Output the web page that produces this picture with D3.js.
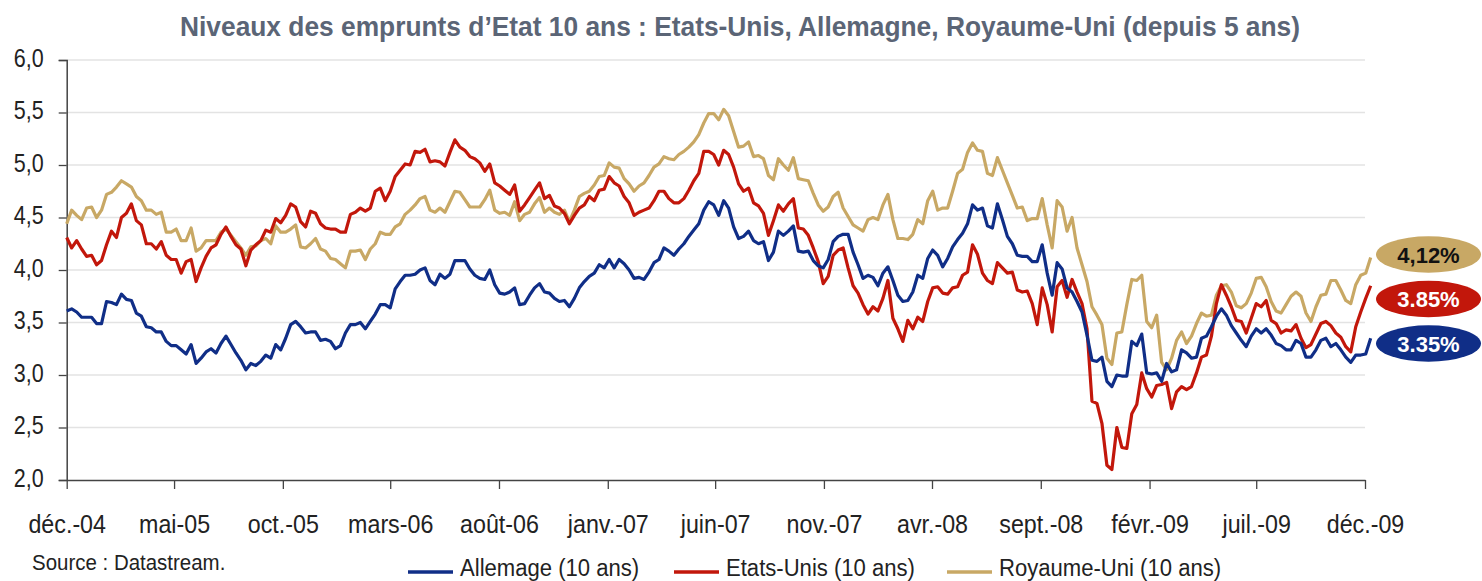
<!DOCTYPE html>
<html><head><meta charset="utf-8">
<script src="https://cdn.jsdelivr.net/npm/d3@7"></script>
<style>
html,body{margin:0;padding:0;background:#fff;}
svg{display:block;}
text{font-family:"Liberation Sans Narrow","Arial Narrow","Liberation Sans",Arial,sans-serif;}
</style></head>
<body><svg id="c" width="1482" height="581"></svg>
<script>
const title = "Niveaux des emprunts d\u2019Etat 10 ans : Etats-Unis, Allemagne, Royaume-Uni (depuis 5 ans)";
const startDate = new Date(2004, 11, 1); // first weekly observation
const seriesNames = ["Allemage (10 ans)", "Etats-Unis (10 ans)", "Royaume-Uni (10 ans)"];
const endLabels = ["3.35%", "3.85%", "4,12%"];
const xTickLabels = ["déc.-04","mai-05","oct.-05","mars-06","août-06","janv.-07","juin-07","nov.-07","avr.-08","sept.-08","févr.-09","juil.-09","déc.-09"];
const yTickValues = [2.0,2.5,3.0,3.5,4.0,4.5,5.0,5.5,6.0];
const yTickLabels = ["2,0","2,5","3,0","3,5","4,0","4,5","5,0","5,5","6,0"];

const allemagne = [
3.61,3.63,3.60,3.55,3.55,3.55,3.49,3.49,3.70,3.69,3.67,3.77,3.72,3.71,3.59,3.56,3.46,3.45,3.41,3.41,3.32,3.28,3.28,3.24,3.20,3.29,3.11,3.16,3.22,3.25,3.21,3.30,3.37,3.29,3.21,3.14,3.05,3.11,3.09,3.13,3.19,3.16,3.29,3.24,
3.35,3.48,3.51,3.46,3.40,3.41,3.41,3.33,3.34,3.32,3.25,3.28,3.40,3.48,3.48,3.50,3.44,3.51,3.58,3.67,3.67,3.64,3.82,3.89,3.95,3.95,3.96,4.00,4.02,3.90,3.86,3.96,3.92,3.96,4.09,4.09,4.09,4.01,3.95,3.92,3.91,4.00,3.86,3.78,
3.77,3.79,3.83,3.67,3.68,3.76,3.83,3.87,3.79,3.78,3.73,3.70,3.71,3.65,3.73,3.83,3.89,3.94,3.97,4.05,4.02,4.10,4.02,4.10,4.06,4.00,3.92,3.93,3.91,3.98,4.07,4.10,4.21,4.18,4.14,4.20,4.25,4.32,4.38,4.44,4.57,4.65,4.62,4.52,
4.66,4.59,4.41,4.30,4.32,4.37,4.28,4.25,4.27,4.09,4.17,4.37,4.33,4.37,4.42,4.18,4.17,4.18,4.09,4.04,4.02,4.10,4.27,4.32,4.34,4.34,4.17,4.05,3.92,3.95,3.93,3.85,3.97,4.03,3.90,3.76,3.70,3.71,3.79,3.95,3.92,4.11,4.19,4.14,4.03,
4.11,4.22,4.29,4.35,4.44,4.62,4.57,4.59,4.42,4.40,4.63,4.48,4.32,4.25,4.14,4.13,4.13,4.08,4.08,4.24,3.97,3.76,4.07,4.01,3.83,3.79,3.70,3.60,3.38,3.14,3.13,3.17,2.94,2.89,3.00,2.99,2.99,3.32,3.28,3.39,3.02,3.01,3.02,2.94,
3.11,3.03,3.05,3.24,3.21,3.16,3.17,3.35,3.37,3.46,3.56,3.63,3.57,3.47,3.40,3.33,3.27,3.37,3.44,3.40,3.44,3.38,3.30,3.28,3.24,3.24,3.33,3.30,3.17,3.17,3.24,3.33,3.35,3.27,3.30,3.24,3.17,3.12,3.19,3.19,3.20,3.35];

const etatsUnis = [
4.31,4.21,4.28,4.20,4.13,4.14,4.05,4.09,4.24,4.37,4.31,4.50,4.54,4.63,4.47,4.43,4.25,4.25,4.20,4.27,4.14,4.10,4.10,3.97,4.08,4.10,3.89,4.02,4.13,4.21,4.24,4.34,4.41,4.32,4.24,4.20,4.04,4.19,4.24,4.28,4.38,4.36,4.49,4.45,
4.52,4.63,4.60,4.46,4.41,4.56,4.54,4.44,4.40,4.39,4.39,4.36,4.36,4.53,4.55,4.59,4.56,4.59,4.75,4.78,4.66,4.75,4.89,4.95,5.01,5.00,5.13,5.12,5.15,5.03,5.04,5.03,4.99,5.12,5.24,5.17,5.14,5.08,5.06,5.02,4.94,5.01,4.83,4.80,
4.76,4.72,4.81,4.56,4.62,4.69,4.76,4.83,4.68,4.71,4.61,4.59,4.54,4.44,4.52,4.59,4.62,4.70,4.66,4.76,4.77,4.89,4.83,4.80,4.70,4.64,4.52,4.55,4.57,4.59,4.66,4.75,4.75,4.68,4.64,4.64,4.68,4.76,4.85,4.92,5.13,5.13,5.10,5.00,
5.14,5.10,4.98,4.82,4.75,4.78,4.64,4.61,4.54,4.33,4.47,4.62,4.56,4.63,4.68,4.40,4.39,4.33,4.21,4.08,3.87,3.94,4.14,4.19,4.21,4.02,3.85,3.78,3.67,3.58,3.65,3.61,3.73,3.90,3.54,3.44,3.32,3.52,3.44,3.55,3.51,3.70,3.83,3.84,3.78,
3.77,3.83,3.84,3.95,3.98,4.24,4.15,3.97,3.90,3.87,4.07,4.02,3.97,3.98,3.81,3.79,3.80,3.68,3.48,3.83,3.67,3.41,3.84,3.90,3.74,3.91,3.79,3.68,3.44,2.75,2.73,2.54,2.14,2.10,2.50,2.31,2.30,2.63,2.72,3.02,2.87,2.79,2.90,2.91,
2.93,2.68,2.84,2.89,2.86,2.89,3.02,3.17,3.19,3.37,3.68,3.86,3.76,3.65,3.52,3.51,3.40,3.54,3.68,3.65,3.71,3.52,3.49,3.40,3.43,3.42,3.48,3.35,3.26,3.29,3.39,3.49,3.51,3.47,3.40,3.36,3.27,3.22,3.46,3.60,3.73,3.85];

const royaumeUni = [
4.44,4.57,4.52,4.48,4.59,4.60,4.50,4.57,4.72,4.74,4.79,4.85,4.82,4.79,4.70,4.66,4.57,4.57,4.53,4.55,4.36,4.36,4.39,4.28,4.28,4.40,4.18,4.21,4.28,4.28,4.28,4.36,4.39,4.33,4.27,4.21,4.14,4.22,4.23,4.28,4.30,4.25,4.42,4.36,
4.36,4.39,4.43,4.22,4.21,4.25,4.30,4.20,4.18,4.11,4.10,4.06,4.02,4.18,4.18,4.19,4.10,4.20,4.25,4.36,4.34,4.34,4.41,4.44,4.53,4.57,4.62,4.68,4.70,4.57,4.55,4.59,4.55,4.65,4.75,4.74,4.67,4.60,4.60,4.60,4.67,4.76,4.57,4.54,
4.55,4.52,4.65,4.47,4.53,4.55,4.63,4.69,4.55,4.59,4.55,4.53,4.57,4.46,4.57,4.70,4.73,4.75,4.81,4.89,4.90,5.02,4.98,4.97,4.87,4.82,4.75,4.80,4.83,4.90,4.98,5.01,5.08,5.06,5.05,5.10,5.13,5.17,5.22,5.29,5.40,5.49,5.49,5.43,
5.53,5.47,5.32,5.17,5.18,5.22,5.08,5.09,5.06,4.90,4.86,5.06,5.00,4.95,5.07,4.87,4.86,4.85,4.73,4.62,4.56,4.60,4.70,4.74,4.59,4.51,4.43,4.40,4.37,4.48,4.50,4.48,4.62,4.72,4.48,4.30,4.30,4.29,4.34,4.48,4.44,4.66,4.75,4.57,4.59,
4.59,4.75,4.92,4.96,5.12,5.21,5.14,5.13,4.92,4.90,5.07,4.95,4.83,4.71,4.59,4.60,4.47,4.49,4.49,4.68,4.43,4.21,4.66,4.60,4.37,4.50,4.21,4.05,3.89,3.65,3.57,3.48,3.16,3.10,3.40,3.41,3.67,3.91,3.90,3.95,3.51,3.45,3.57,3.12,
3.05,3.16,3.33,3.41,3.30,3.37,3.49,3.59,3.56,3.57,3.76,3.85,3.86,3.79,3.66,3.64,3.68,3.78,3.92,3.93,3.84,3.70,3.61,3.59,3.67,3.75,3.79,3.75,3.59,3.51,3.65,3.76,3.77,3.90,3.90,3.81,3.71,3.68,3.86,3.95,3.97,4.12];

const colors = ["#102e87", "#c2170b", "#c8a865"];
const labelTextColors = ["#ffffff", "#ffffff", "#111111"];

const svg = d3.select("#c");
const plotLeft = 66.7, plotRight = 1365, plotTop = 60, plotBottom = 480;
const dateOf = i => d3.timeDay.offset(startDate, 7 * i);
const x = d3.scaleTime().domain([new Date(2004, 11, 1), new Date(2009, 11, 1)]).range([plotLeft, plotRight]);
const y = d3.scaleLinear().domain([2, 6]).range([plotBottom, plotTop]);
const xTickDates = xTickLabels.map((_, k) => new Date(2004, 11 + 5 * k, 1));

// horizontally condense text (the original uses a narrow typeface)
function condense(sel, factor) {
  sel.each(function () {
    const len = this.getComputedTextLength();
    d3.select(this).attr("textLength", len * factor).attr("lengthAdjust", "spacingAndGlyphs");
  });
}

// title
svg.append("text").attr("x", 740).attr("y", 36).attr("text-anchor", "middle")
  .attr("font-size", 27).attr("font-weight", "bold").attr("fill", "#5b6576")
  .attr("textLength", 1120).attr("lengthAdjust", "spacingAndGlyphs").text(title);

// gridlines
svg.append("g").selectAll("line").data(yTickValues.slice(1)).join("line")
  .attr("x1", plotLeft).attr("x2", plotRight).attr("y1", d => y(d)).attr("y2", d => y(d))
  .attr("stroke", "#e3e3e3").attr("stroke-width", 1.5);

// y axis
const yAxis = svg.append("g").attr("transform", `translate(${plotLeft},0)`)
  .call(d3.axisLeft(y).tickValues(yTickValues).tickFormat((d, i) => yTickLabels[i]).tickSize(8).tickPadding(15));
yAxis.select(".domain").attr("stroke", "#444").attr("stroke-width", 1.5);
yAxis.selectAll(".tick line").attr("stroke", "#444").attr("stroke-width", 1.3);
yAxis.selectAll(".tick text").attr("font-size", 25).attr("fill", "#222").attr("dy", "0.25em");
condense(yAxis.selectAll(".tick text"), 0.86);

// x axis
const xAxis = svg.append("g").attr("transform", `translate(0,${plotBottom})`)
  .call(d3.axisBottom(x).tickValues(xTickDates).tickFormat((d, i) => xTickLabels[i]).tickSize(9).tickPadding(26).tickSizeOuter(0));
xAxis.select(".domain").attr("stroke", "#444").attr("stroke-width", 1.5);
xAxis.selectAll(".tick line").attr("stroke", "#444").attr("stroke-width", 1.3);
xAxis.selectAll(".tick text").attr("font-size", 25).attr("fill", "#222");
condense(xAxis.selectAll(".tick text"), 0.93);

// lines
const allSeries = [allemagne, etatsUnis, royaumeUni];
const line = d3.line().x((d, i) => x(dateOf(i))).y(d => y(d));
[2, 1, 0].forEach(k => {
  svg.append("path").datum(allSeries[k]).attr("d", line)
    .attr("fill", "none").attr("stroke", colors[k]).attr("stroke-width", 3.2)
    .attr("stroke-linejoin", "round");
});

// end labels
const ellipseCy = [343.5, 299, 254.5];
endLabels.forEach((t, k) => {
  const g = svg.append("g");
  g.append("ellipse").attr("cx", 1428.5).attr("cy", ellipseCy[k]).attr("rx", 52.5).attr("ry", 18.2).attr("fill", colors[k]);
  g.append("text").attr("x", 1428.5).attr("y", ellipseCy[k] + 8).attr("text-anchor", "middle")
    .attr("font-family", '"Liberation Sans",Arial,sans-serif').attr("font-weight", "bold").attr("font-size", 22)
    .attr("fill", labelTextColors[k]).text(t);
});

// source
const src = svg.append("text").attr("x", 32).attr("y", 570).attr("font-size", 22).attr("fill", "#222").text("Source : Datastream.");
condense(src, 0.93);

// legend
const legX = [408, 674, 947];
seriesNames.forEach((n, k) => {
  svg.append("line").attr("x1", legX[k]).attr("x2", legX[k] + 45).attr("y1", 572).attr("y2", 572)
    .attr("stroke", colors[k]).attr("stroke-width", 3.5);
  const t = svg.append("text").attr("x", legX[k] + 52).attr("y", 576).attr("font-size", 23).attr("fill", "#222").text(n);
  condense(t, 0.96);
});
</script></body></html>
